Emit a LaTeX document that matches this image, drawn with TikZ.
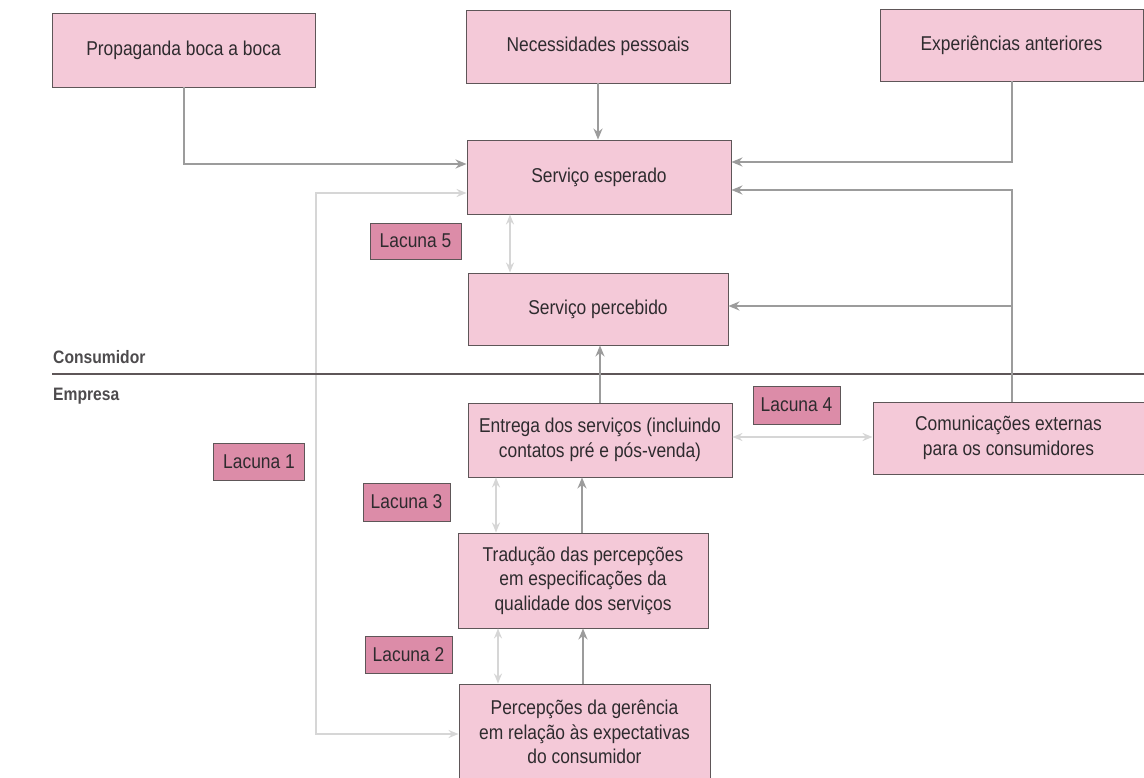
\documentclass[tikz,border=0pt]{standalone}
\usepackage{fontspec}
\setmainfont{Liberation Sans}[FakeStretch=0.87]
\usetikzlibrary{arrows.meta}
\definecolor{boxpink}{HTML}{F4C9D8}
\definecolor{gappink}{HTML}{DC8CA8}
\definecolor{edge}{HTML}{5E5658}
\definecolor{arr}{HTML}{9C9C9C}
\definecolor{arrlight}{HTML}{D6D6D6}
\definecolor{txt}{HTML}{2E2B2E}
\tikzset{
  box/.style={draw=edge, line width=0.9pt, fill=boxpink, align=center, text=txt,
    font=\fontsize{20}{24.5}\selectfont, inner sep=0pt},
  gap/.style={draw=edge, line width=0.9pt, fill=gappink, align=center, text=txt,
    font=\fontsize{20}{24}\selectfont, inner sep=0pt},
  conn/.style={draw=arr, line width=2pt, -{Stealth[length=11pt,width=9pt]}},
  lite/.style={draw=arrlight, line width=2pt, {Stealth[length=10pt,width=8pt]}-{Stealth[length=10pt,width=8pt]}},
  side/.style={text=txt!85, font=\fontsize{18}{22}\bfseries\selectfont, anchor=west, inner sep=0pt}
}
\begin{document}
\begin{tikzpicture}[x=1pt,y=-1pt]
\useasboundingbox (0,0) rectangle (1144,778);
% boxes
\node[box, minimum width=263pt, minimum height=74pt] (prop) at (183.5,50) {Propaganda boca a boca};
\node[box, minimum width=264pt, minimum height=73pt] (nec) at (598,46.5) {Necessidades pessoais};
\node[box, minimum width=263pt, minimum height=72pt] (exp) at (1011.5,45) {Experiências anteriores};
\node[box, minimum width=264pt, minimum height=74pt] (esp) at (599,177) {Serviço esperado};
\node[box, minimum width=260pt, minimum height=72pt] (perc) at (598,309) {Serviço percebido};
\node[box, minimum width=264pt, minimum height=74pt] (ent) at (600,440) {Entrega dos serviços (incluindo\\contatos pré e pós-venda)};
\node[box, minimum width=271pt, minimum height=72pt] (com) at (1008.5,438) {Comunicações externas\\para os consumidores};
\node[box, minimum width=250pt, minimum height=95pt] (trad) at (583,580.5) {Tradução das percepções\\em especificações da\\qualidade dos serviços};
\node[box, minimum width=251pt, minimum height=96pt] (ger) at (584.5,732) {Percepções da gerência\\em relação às expectativas\\do consumidor};
% gaps
\node[gap, minimum width=91pt, minimum height=36pt] (l5) at (415.5,241) {Lacuna 5};
\node[gap, minimum width=87pt, minimum height=38pt] (l4) at (796.5,405) {Lacuna 4};
\node[gap, minimum width=91pt, minimum height=37pt] (l1) at (259,461.5) {Lacuna 1};
\node[gap, minimum width=87pt, minimum height=38pt] (l3) at (406.5,502) {Lacuna 3};
\node[gap, minimum width=87pt, minimum height=37pt] (l2) at (408.5,654.5) {Lacuna 2};
% gap arrows (drawn under separator)
\draw[lite] (esp.south -| 510,0) -- (perc.north -| 510,0);
\draw[lite] (ent.east |- 0,437) -- (com.west |- 0,437);
\draw[lite] (ent.south -| 496,0) -- (trad.north -| 496,0);
\draw[lite] (trad.south -| 498,0) -- (ger.north -| 498,0);
\draw[lite] (ger.west |- 0,734) -| (316,193) -- (esp.west |- 0,193);
% separator
\coordinate (sepL) at (52,374);
\coordinate (sepR) at (1144,374);
\draw[edge, line width=1.1pt] (sepL) -- (sepR);
\node[side] (cons) at (53,357) {Consumidor};
\node[side] (emp) at (53,396) {Empresa};
% main connectors
\draw[conn] (prop.south -| 183.5,0) |- (esp.west |- 0,164);
\draw[conn] (nec.south -| 598,0) -- (esp.north -| 598,0);
\draw[conn] (exp.south -| 1012,0) |- (esp.east |- 0,162);
\coordinate (cj) at (1012,306);
\draw[conn] (com.north -| 1012,0) |- (esp.east |- 0,190);
\draw[conn] (cj) -- (perc.east |- cj);
\draw[conn] (ent.north -| 600,0) -- (perc.south -| 600,0);
\draw[conn] (trad.north -| 582,0) -- (ent.south -| 582,0);
\draw[conn] (ger.north -| 583,0) -- (trad.south -| 583,0);
\end{tikzpicture}
\end{document}
